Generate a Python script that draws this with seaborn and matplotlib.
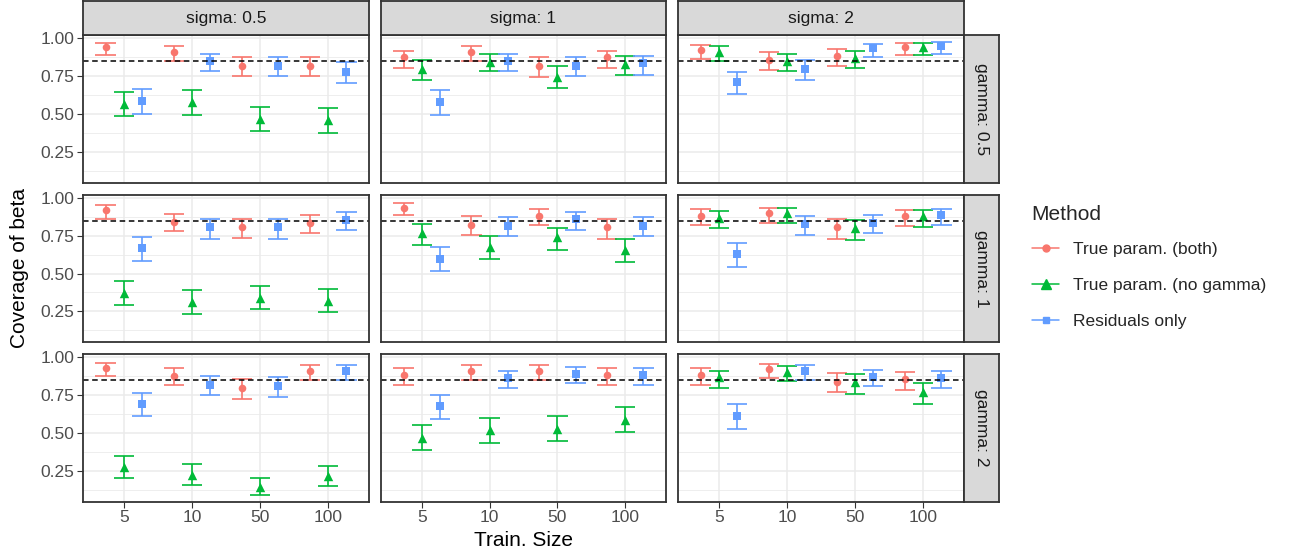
import numpy as np
import pandas as pd
import seaborn as sns
import matplotlib.pyplot as plt
from matplotlib.lines import Line2D

# facet levels and categories
sizes = ["5", "10", "50", "100"]
sigmas = ["0.5", "1", "2"]
gammas = ["0.5", "1", "2"]
methods = ["True param. (both)", "True param. (no gamma)", "Residuals only"]

# coverage values, indexed [gamma][sigma][train size]
both_est = [
    [[0.94, 0.91, 0.82, 0.82], [0.875, 0.91, 0.82, 0.875], [0.92, 0.86, 0.885, 0.94]],
    [[0.92, 0.845, 0.81, 0.835], [0.935, 0.825, 0.885, 0.81], [0.885, 0.90, 0.81, 0.88]],
    [[0.93, 0.88, 0.80, 0.91], [0.885, 0.91, 0.91, 0.885], [0.885, 0.92, 0.84, 0.855]],
]
both_lo = [
    [[0.89, 0.853, 0.75, 0.75], [0.805, 0.853, 0.748, 0.805], [0.866, 0.79, 0.818, 0.89]],
    [[0.86, 0.78, 0.735, 0.768], [0.886, 0.758, 0.825, 0.733], [0.825, 0.836, 0.733, 0.817]],
    [[0.877, 0.818, 0.726, 0.853], [0.818, 0.853, 0.853, 0.818], [0.818, 0.866, 0.772, 0.785]],
]
both_hi = [
    [[0.97, 0.95, 0.877, 0.877], [0.917, 0.95, 0.877, 0.917], [0.958, 0.91, 0.928, 0.97]],
    [[0.954, 0.895, 0.865, 0.89], [0.967, 0.882, 0.93, 0.865], [0.93, 0.939, 0.865, 0.924]],
    [[0.965, 0.928, 0.86, 0.952], [0.928, 0.952, 0.952, 0.928], [0.928, 0.958, 0.895, 0.901]],
]

nogam_est = [
    [[0.57, 0.58, 0.47, 0.46], [0.80, 0.845, 0.745, 0.83], [0.91, 0.85, 0.87, 0.94]],
    [[0.37, 0.31, 0.34, 0.32], [0.77, 0.675, 0.74, 0.66], [0.87, 0.90, 0.80, 0.88]],
    [[0.275, 0.225, 0.145, 0.215], [0.47, 0.52, 0.53, 0.59], [0.87, 0.905, 0.835, 0.77]],
]
nogam_lo = [
    [[0.487, 0.496, 0.388, 0.379], [0.728, 0.785, 0.673, 0.761], [0.853, 0.783, 0.805, 0.89]],
    [[0.29, 0.234, 0.264, 0.245], [0.692, 0.596, 0.659, 0.576], [0.803, 0.838, 0.725, 0.81]],
    [[0.202, 0.158, 0.09, 0.151], [0.388, 0.436, 0.447, 0.509], [0.798, 0.842, 0.761, 0.695]],
]
nogam_hi = [
    [[0.649, 0.66, 0.55, 0.542], [0.857, 0.90, 0.816, 0.886], [0.95, 0.90, 0.919, 0.97]],
    [[0.452, 0.389, 0.417, 0.397], [0.83, 0.749, 0.803, 0.729], [0.915, 0.939, 0.856, 0.92]],
    [[0.349, 0.294, 0.206, 0.283], [0.553, 0.601, 0.612, 0.671], [0.91, 0.943, 0.888, 0.833]],
]

resid_est = [
    [[0.59, 0.853, 0.82, 0.78], [0.583, 0.853, 0.82, 0.835], [0.71, 0.80, 0.934, 0.95]],
    [[0.668, 0.808, 0.808, 0.858], [0.596, 0.817, 0.86, 0.817], [0.629, 0.827, 0.838, 0.886]],
    [[0.693, 0.82, 0.809, 0.91], [0.682, 0.866, 0.89, 0.884], [0.614, 0.91, 0.873, 0.862]],
]
resid_lo = [
    [[0.504, 0.787, 0.75, 0.706], [0.496, 0.787, 0.75, 0.761], [0.63, 0.728, 0.877, 0.90]],
    [[0.585, 0.731, 0.731, 0.79], [0.515, 0.747, 0.79, 0.747], [0.544, 0.758, 0.768, 0.825]],
    [[0.61, 0.75, 0.739, 0.853], [0.596, 0.796, 0.831, 0.818], [0.529, 0.853, 0.809, 0.796]],
]
resid_hi = [
    [[0.667, 0.90, 0.877, 0.842], [0.66, 0.90, 0.877, 0.886], [0.78, 0.857, 0.965, 0.978]],
    [[0.74, 0.865, 0.865, 0.906], [0.675, 0.873, 0.906, 0.873], [0.705, 0.882, 0.89, 0.93]],
    [[0.765, 0.879, 0.87, 0.952], [0.754, 0.912, 0.934, 0.928], [0.689, 0.952, 0.919, 0.91]],
]

target = 0.85

# long table
rows = []
series = [(both_est, both_lo, both_hi), (nogam_est, nogam_lo, nogam_hi), (resid_est, resid_lo, resid_hi)]
for m, (est, lo, hi) in zip(methods, series):
    for gi, g in enumerate(gammas):
        for si, s in enumerate(sigmas):
            for k, n in enumerate(sizes):
                rows.append(dict(method=m, gamma=g, sigma=s, size=n, pos=k,
                                 est=est[gi][si][k], lo=lo[gi][si][k], hi=hi[gi][si][k]))
df = pd.DataFrame(rows)

colors = ["#F8766D", "#00BA38", "#619CFF"]
markers = ["o", "^", "s"]
msize = [30, 46, 32]
dodge = [-0.267, 0.0, 0.267]

sns.set_theme(style="white")
plt.rcParams['font.family'] = ['Liberation Sans', 'DejaVu Sans']
plt.rcParams['lines.scale_dashes'] = False

W, H = 1289, 559
fig = plt.figure(figsize=(W / 100, H / 100), dpi=100)


def rect(x0, y0, x1, y1):
    return [x0 / W, 1 - y1 / H, (x1 - x0) / W, (y1 - y0) / H]


col_px = [(83, 369), (381, 666), (678, 964)]
row_px = [(35, 183), (195, 342), (354, 502)]
border = "#333333"


def strip(r, text, rotation=0):
    sax = fig.add_axes(rect(*r))
    sax.set_facecolor("#D9D9D9")
    sax.set_xticks([])
    sax.set_yticks([])
    for sp in sax.spines.values():
        sp.set_visible(True)
        sp.set_color(border)
        sp.set_linewidth(1.3)
    sax.text(0.5, 0.5, text, transform=sax.transAxes, ha="center", va="center",
             rotation=rotation, fontsize=12.5, color="#1A1A1A")


for gi, g in enumerate(gammas):
    for si, s in enumerate(sigmas):
        x0, x1 = col_px[si]
        y0, y1 = row_px[gi]
        ax = fig.add_axes(rect(x0, y0, x1, y1))
        sub = df[(df.gamma == g) & (df.sigma == s)]

        # grid
        for yv in [0.125, 0.375, 0.625, 0.875]:
            ax.axhline(yv, color="#EBEBEB", lw=0.6, zorder=0)
        for yv in [0.25, 0.5, 0.75, 1.0]:
            ax.axhline(yv, color="#EBEBEB", lw=1.1, zorder=0)
        for xv in range(len(sizes)):
            ax.axvline(xv, color="#EBEBEB", lw=1.1, zorder=0)

        for mi, m in enumerate(methods):
            d = sub[sub.method == m].copy()
            d["x"] = d["pos"] + dodge[mi]
            ax.vlines(d["x"], d["lo"], d["hi"], color=colors[mi], lw=1.2, zorder=2)
            ax.hlines(d["lo"], d["x"] - 0.15, d["x"] + 0.15, color=colors[mi], lw=1.2, zorder=2)
            ax.hlines(d["hi"], d["x"] - 0.15, d["x"] + 0.15, color=colors[mi], lw=1.2, zorder=2)
            sns.scatterplot(data=d, x="x", y="est", marker=markers[mi], s=msize[mi],
                            color=colors[mi], linewidth=0, ax=ax, legend=False, zorder=3)

        ax.axhline(target, color="black", lw=1.1, ls=(0, (4.0, 2.6)), zorder=4)

        ax.set_xlim(-0.6, 3.6)
        ax.set_ylim(0.046, 1.022)
        ax.set_xlabel("")
        ax.set_ylabel("")
        ax.set_yticks([0.25, 0.5, 0.75, 1.0])
        ax.set_xticks(range(len(sizes)))
        ax.tick_params(colors=border, length=4, width=0.8, labelcolor="#4D4D4D", labelsize=12.5, pad=2)
        if si == 0:
            ax.set_yticklabels(["0.25", "0.50", "0.75", "1.00"])
            ax.tick_params(axis="y", left=True)
        else:
            ax.set_yticklabels([])
            ax.tick_params(axis="y", left=False)
        if gi == len(gammas) - 1:
            ax.set_xticklabels(sizes)
            ax.tick_params(axis="x", bottom=True)
        else:
            ax.set_xticklabels([])
            ax.tick_params(axis="x", bottom=False)
        for sp in ax.spines.values():
            sp.set_visible(True)
            sp.set_color(border)
            sp.set_linewidth(1.3)
            sp.set_zorder(5)

for si, s in enumerate(sigmas):
    x0, x1 = col_px[si]
    strip((x0, 1, x1, 35), f"sigma: {s}")
for gi, g in enumerate(gammas):
    y0, y1 = row_px[gi]
    strip((964, y0, 999, y1), f"gamma: {g}", rotation=-90)

fig.text(20 / W, 1 - 268 / H, "Coverage of beta", rotation=90, ha="center", va="center",
         fontsize=15, color="black")
fig.text(523 / W, 1 - 540 / H, "Train. Size", ha="center", va="center", fontsize=15, color="black")

handles = [Line2D([0], [0], color=c, marker=mk, markersize=ms, lw=1.1)
           for c, mk, ms in zip(colors, markers, [5, 6.5, 4.8])]
leg = fig.legend(handles, methods, title="Method", loc="upper left",
                 bbox_to_anchor=(1023 / W, 1 - 196 / H), frameon=False,
                 fontsize=12.5, title_fontsize=15, handlelength=1.6,
                 handletextpad=0.8, labelspacing=1.2, borderpad=0)
leg._legend_box.align = "left"
leg._legend_box.sep = 13

fig.savefig("out.png", dpi=100)
